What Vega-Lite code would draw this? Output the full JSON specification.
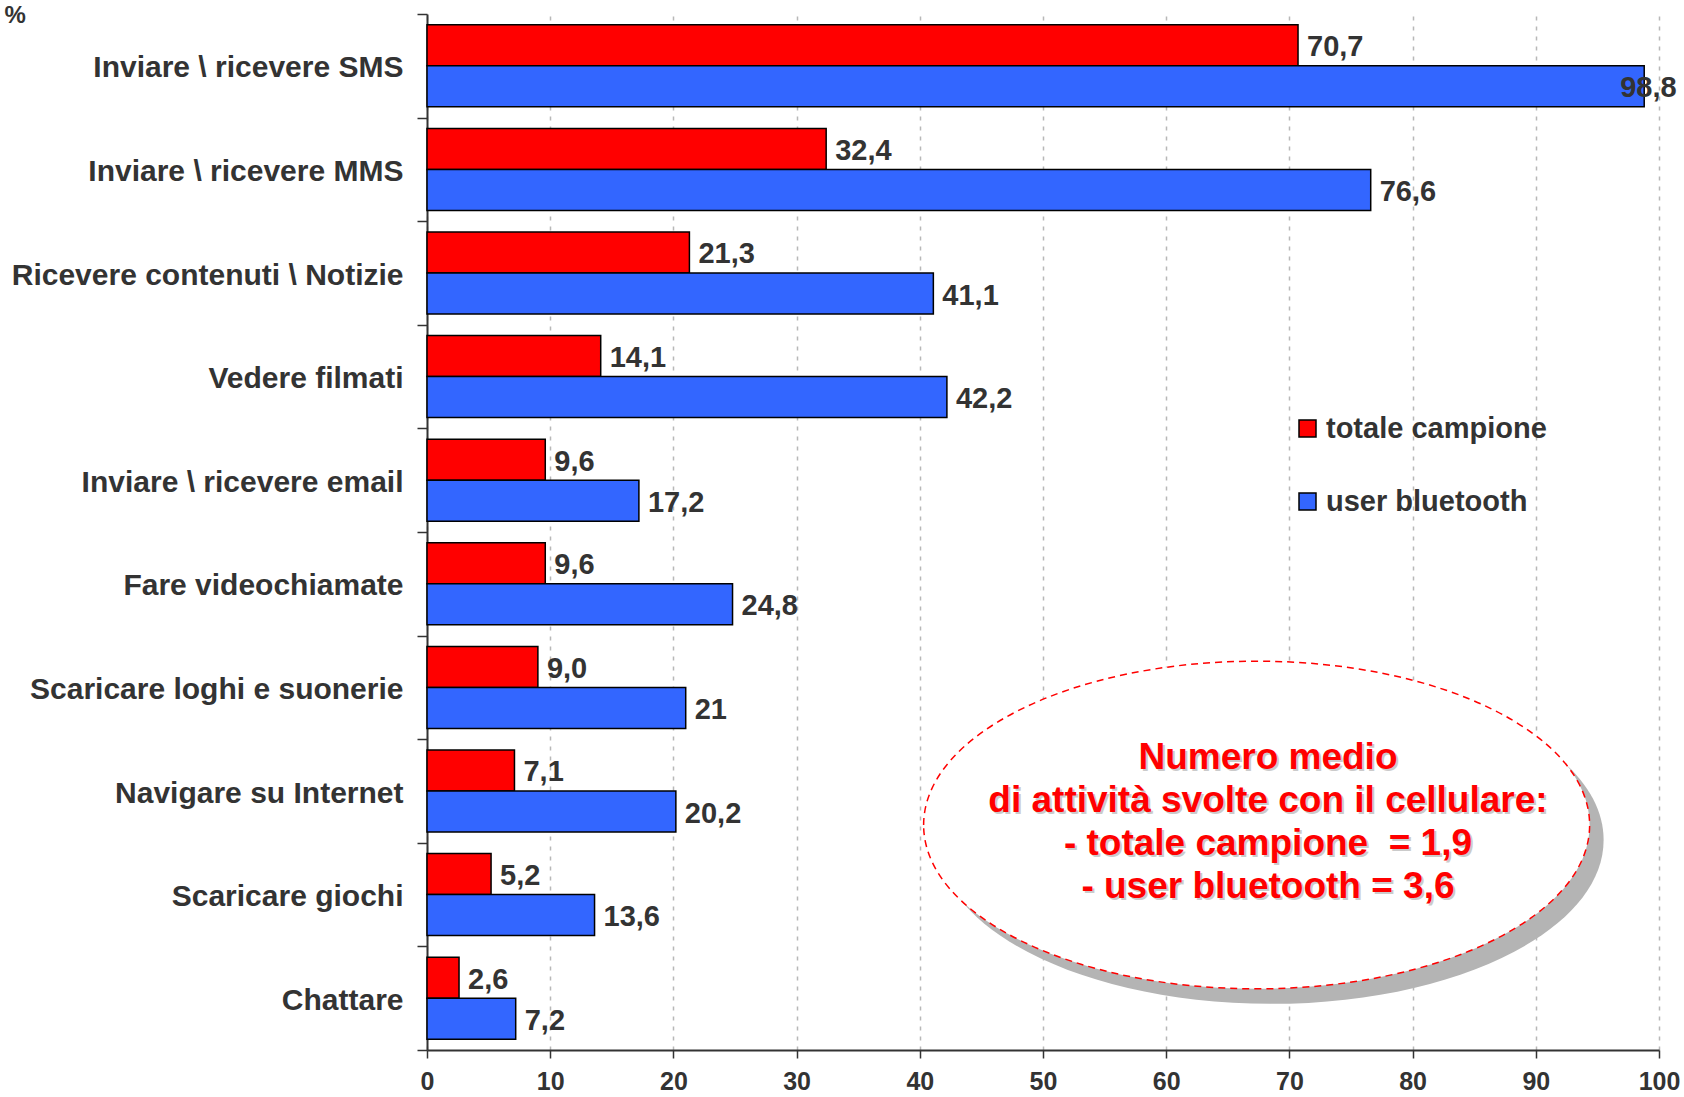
{
  "$schema": "https://vega.github.io/schema/vega-lite/v6.json",
  "width": 1232,
  "height": 1036,
  "autosize": {"type": "none"},
  "padding": {"left": 427, "top": 14, "right": 25, "bottom": 47},
  "background": "white",
  "config": {"font": "Liberation Sans", "view": {"stroke": null}},
  "datasets": {
    "bars": [
      {"cat": "Inviare \\ ricevere SMS", "series": "totale campione", "value": 70.7, "label": "70,7"},
      {"cat": "Inviare \\ ricevere SMS", "series": "user bluetooth", "value": 98.8, "label": "98,8"},
      {"cat": "Inviare \\ ricevere MMS", "series": "totale campione", "value": 32.4, "label": "32,4"},
      {"cat": "Inviare \\ ricevere MMS", "series": "user bluetooth", "value": 76.6, "label": "76,6"},
      {"cat": "Ricevere contenuti \\ Notizie", "series": "totale campione", "value": 21.3, "label": "21,3"},
      {"cat": "Ricevere contenuti \\ Notizie", "series": "user bluetooth", "value": 41.1, "label": "41,1"},
      {"cat": "Vedere filmati", "series": "totale campione", "value": 14.1, "label": "14,1"},
      {"cat": "Vedere filmati", "series": "user bluetooth", "value": 42.2, "label": "42,2"},
      {"cat": "Inviare \\ ricevere email", "series": "totale campione", "value": 9.6, "label": "9,6"},
      {"cat": "Inviare \\ ricevere email", "series": "user bluetooth", "value": 17.2, "label": "17,2"},
      {"cat": "Fare videochiamate", "series": "totale campione", "value": 9.6, "label": "9,6"},
      {"cat": "Fare videochiamate", "series": "user bluetooth", "value": 24.8, "label": "24,8"},
      {"cat": "Scaricare loghi e suonerie", "series": "totale campione", "value": 9.0, "label": "9,0"},
      {"cat": "Scaricare loghi e suonerie", "series": "user bluetooth", "value": 21, "label": "21"},
      {"cat": "Navigare su Internet", "series": "totale campione", "value": 7.1, "label": "7,1"},
      {"cat": "Navigare su Internet", "series": "user bluetooth", "value": 20.2, "label": "20,2"},
      {"cat": "Scaricare giochi", "series": "totale campione", "value": 5.2, "label": "5,2"},
      {"cat": "Scaricare giochi", "series": "user bluetooth", "value": 13.6, "label": "13,6"},
      {"cat": "Chattare", "series": "totale campione", "value": 2.6, "label": "2,6"},
      {"cat": "Chattare", "series": "user bluetooth", "value": 7.2, "label": "7,2"}
    ],
    "note": [
      {"cat": "Navigare su Internet", "cx": 67.34, "tx": 68.26, "text": "Numero medio\ndi attività svolte con il cellulare:\n- totale campione \u00a0= 1,9\n- user bluetooth = 3,6"}
    ]
  },
  "layer": [
    {
      "data": {"name": "bars"},
      "mark": {"type": "bar", "stroke": "black", "strokeWidth": 1.5},
      "encoding": {
        "y": {
          "field": "cat", "type": "nominal", "sort": null,
          "scale": {"domain": ["Inviare \\ ricevere SMS", "Inviare \\ ricevere MMS", "Ricevere contenuti \\ Notizie", "Vedere filmati", "Inviare \\ ricevere email", "Fare videochiamate", "Scaricare loghi e suonerie", "Navigare su Internet", "Scaricare giochi", "Chattare"], "paddingInner": 0, "paddingOuter": 0},
          "axis": {
            "title": "%", "titleAngle": 0, "titleX": -423, "titleY": -11, "titleAlign": "left", "titleBaseline": "top",
            "titleFont": "Liberation Sans", "titleFontSize": 24, "titleFontWeight": "bold", "titleColor": "#333333",
            "tickBand": "extent", "tickSize": 10, "tickColor": "#333333", "tickWidth": 1.5,
            "domainColor": "#333333", "domainWidth": 2,
            "labelFont": "Liberation Sans", "labelFontSize": 30, "labelFontWeight": "bold", "labelColor": "#333333",
            "labelPadding": 14, "labelLimit": 600, "labelOffset": 2, "grid": false
          }
        },
        "yOffset": {
          "field": "series", "type": "nominal",
          "sort": ["totale campione", "user bluetooth"],
          "scale": {"paddingOuter": 0.263, "paddingInner": 0}
        },
        "x": {
          "field": "value", "type": "quantitative",
          "scale": {"domain": [0, 100], "nice": false},
          "axis": {
            "title": null, "values": [0, 10, 20, 30, 40, 50, 60, 70, 80, 90, 100],
            "grid": true, "gridDash": [4, 6], "gridColor": "#b8b8b8", "gridWidth": 1.5,
            "domainColor": "#333333", "domainWidth": 2,
            "tickColor": "#333333", "tickSize": 8, "tickWidth": 1.5,
            "labelFont": "Liberation Sans", "labelFontSize": 25, "labelFontWeight": "bold", "labelColor": "#333333",
            "labelPadding": 11, "labelFlush": false
          }
        },
        "color": {
          "field": "series", "type": "nominal",
          "scale": {"domain": ["totale campione", "user bluetooth"], "range": ["#ff0000", "#3366ff"]},
          "legend": {
            "orient": "none", "legendX": 866, "legendY": 400, "title": null,
            "symbolType": "square", "symbolSize": 289, "symbolStrokeColor": "black", "symbolStrokeWidth": 1.5,
            "labelFont": "Liberation Sans", "labelFontSize": 29, "labelFontWeight": "bold", "labelColor": "#333333",
            "labelOffset": 4, "labelLimit": 500, "rowPadding": 43, "padding": 0
          }
        }
      }
    },
    {
      "data": {"name": "bars"},
      "transform": [{"filter": "datum.value < 95"}],
      "mark": {"type": "text", "align": "left", "baseline": "middle", "dx": 9, "dy": 2, "font": "Liberation Sans", "fontSize": 29, "fontWeight": "bold", "color": "#333333"},
      "encoding": {
        "y": {"field": "cat", "type": "nominal", "sort": null},
        "yOffset": {"field": "series", "type": "nominal", "sort": ["totale campione", "user bluetooth"]},
        "x": {"field": "value", "type": "quantitative"},
        "text": {"field": "label"}
      }
    },
    {
      "data": {"name": "bars"},
      "transform": [{"filter": "datum.value >= 95"}],
      "mark": {"type": "text", "align": "left", "baseline": "middle", "dx": -24, "dy": 2, "font": "Liberation Sans", "fontSize": 29, "fontWeight": "bold", "color": "#333333"},
      "encoding": {
        "y": {"field": "cat", "type": "nominal", "sort": null},
        "yOffset": {"field": "series", "type": "nominal", "sort": ["totale campione", "user bluetooth"]},
        "x": {"field": "value", "type": "quantitative"},
        "text": {"field": "label"}
      }
    },
    {
      "data": {"name": "note"},
      "mark": {"type": "point", "shape": "M-1,0A1,0.492,0,1,1,1,0A1,0.492,0,1,1,-1,0Z", "size": 443556, "filled": true, "fill": "#b4b4b4", "opacity": 1, "strokeWidth": 0, "xOffset": 14, "yOffset": 49},
      "encoding": {
        "y": {"field": "cat", "type": "nominal", "sort": null},
        "x": {"field": "cx", "type": "quantitative"}
      }
    },
    {
      "data": {"name": "note"},
      "mark": {"type": "point", "shape": "M-1,0A1,0.492,0,1,1,1,0A1,0.492,0,1,1,-1,0Z", "size": 443556, "filled": true, "fill": "white", "opacity": 1, "stroke": "#ff0000", "strokeWidth": 1.5, "strokeDash": [7, 5], "yOffset": 34},
      "encoding": {
        "y": {"field": "cat", "type": "nominal", "sort": null},
        "x": {"field": "cx", "type": "quantitative"}
      }
    },
    {
      "data": {"name": "note"},
      "mark": {"type": "text", "align": "center", "baseline": "middle", "lineBreak": "\n", "lineHeight": 43, "font": "Liberation Sans", "fontSize": 37, "fontWeight": "bold", "color": "#999999", "opacity": 0.5, "yOffset": -31, "dx": 2},
      "encoding": {
        "y": {"field": "cat", "type": "nominal", "sort": null},
        "x": {"field": "tx", "type": "quantitative"},
        "text": {"field": "text"}
      }
    },
    {
      "data": {"name": "note"},
      "mark": {"type": "text", "align": "center", "baseline": "middle", "lineBreak": "\n", "lineHeight": 43, "font": "Liberation Sans", "fontSize": 37, "fontWeight": "bold", "color": "#ff0000", "yOffset": -33},
      "encoding": {
        "y": {"field": "cat", "type": "nominal", "sort": null},
        "x": {"field": "tx", "type": "quantitative"},
        "text": {"field": "text"}
      }
    }
  ]
}
